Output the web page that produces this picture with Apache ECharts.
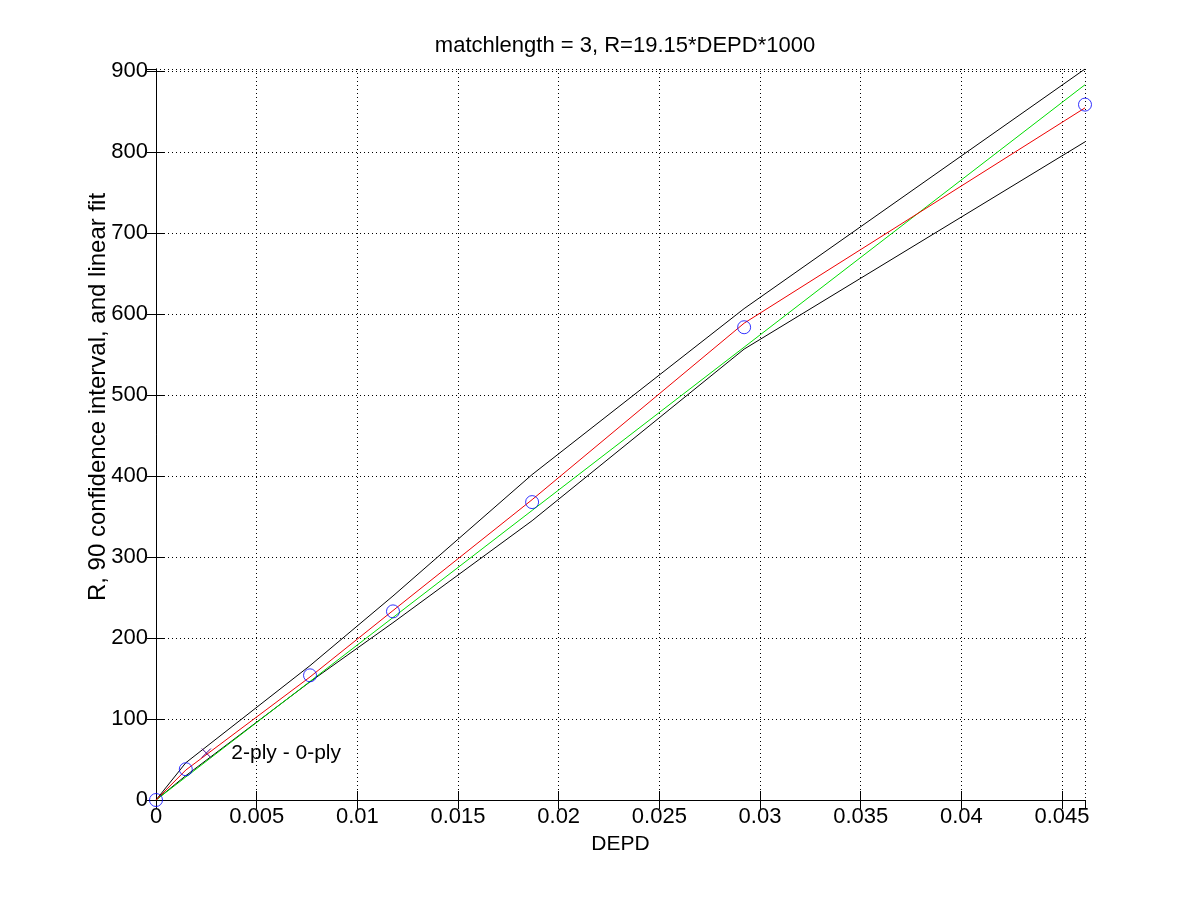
<!DOCTYPE html>
<html>
<head>
<meta charset="utf-8">
<script src="https://cdn.jsdelivr.net/npm/echarts@6/dist/echarts.min.js"></script>
<style>html,body{margin:0;padding:0;background:#fff}#c{width:1200px;height:900px}</style>
</head>
<body>
<div id="c"></div>
<script>
var depd = [0, 0.00148, 0.00765, 0.01177, 0.01868, 0.02921, 0.04614];
var rValues = [0, 38, 154, 233, 368, 584, 859];
var redFit = [0, 37, 152, 234, 371, 589, 855];
var upperCI = [0, 46, 166, 252, 402, 607, 903];
var lowerCI = [0, 30, 146, 219, 345, 557, 813];
var linearSlope = 19150;
var labelPoint = [0.0025, 58];
var labelText = '2-ply - 0-ply';
var titleText = 'matchlength = 3, R=19.15*DEPD*1000';
var xName = 'DEPD';
var yName = 'R, 90 confidence interval, and linear fit';

function pairs(xs, ys){ return xs.map(function(x,i){return [x, ys[i]];}); }
var greenData = depd.map(function(x){ return [x, linearSlope * x]; });

var font = 'Liberation Sans, Arial, Helvetica, sans-serif';
var chart = echarts.init(document.getElementById('c'), null, {renderer:'canvas'});
var xmax = 0.04614, ymax = 903;
function fmt(v){ return String(Number(v.toPrecision(6))); }
var axisCommonX = {
  type:'value', min:0, max:xmax, interval:0.005,
  axisLine:{show:true, lineStyle:{color:'#000', width:1}},
  axisTick:{show:true, inside:true, length:9, lineStyle:{color:'#000'}},
  splitLine:{show:false}
};
var axisCommonY = {
  type:'value', min:0, max:ymax, interval:100,
  axisLine:{show:true, lineStyle:{color:'#000', width:1}},
  axisTick:{show:true, inside:true, length:9, lineStyle:{color:'#000'}},
  splitLine:{show:false}
};
chart.setOption({
  animation:false,
  backgroundColor:'#fff',
  title:{text:titleText, left:620, top:30, textAlign:'center',
    textStyle:{fontFamily:font, fontSize:22, fontWeight:'normal', color:'#000'}},
  grid:{left:156, right:115, top:69, bottom:100, containLabel:false},
  graphic:[{type:'text', x:98, y:397, rotation:Math.PI/2,
    style:{text:yName, fill:'#000', font:'24px ' + font, align:'center', verticalAlign:'middle'}}],
  xAxis:[
    Object.assign({}, axisCommonX, {position:'bottom', name:xName, nameLocation:'middle', nameGap:34,
      nameTextStyle:{fontFamily:font, fontSize:21, color:'#000'},
      axisLabel:{show:true, color:'#000', fontFamily:font, fontSize:22, margin:6, showMaxLabel:false, formatter:fmt},
      splitLine:{show:true, lineStyle:{color:'#000', type:[1,3], width:1}}}),
    Object.assign({}, axisCommonX, {position:'top', axisLabel:{show:false}})
  ],
  yAxis:[
    Object.assign({}, axisCommonY, {position:'left',
      axisLabel:{show:true, color:'#000', fontFamily:font, fontSize:22, margin:8, showMaxLabel:false},
      splitLine:{show:true, lineStyle:{color:'#000', type:[1,3], width:1}}}),
    Object.assign({}, axisCommonY, {position:'right', axisLabel:{show:false}})
  ],
  series:[
    {type:'line', data:pairs(depd, upperCI), symbol:'none', lineStyle:{color:'#000', width:1}, z:2},
    {type:'line', data:pairs(depd, lowerCI), symbol:'none', lineStyle:{color:'#000', width:1}, z:2},
    {type:'line', data:greenData, symbol:'none', lineStyle:{color:'#00dd00', width:1}, z:3},
    {type:'line', data:pairs(depd, redFit), symbol:'none', lineStyle:{color:'#ee0000', width:1}, z:4},
    {type:'scatter', data:pairs(depd, rValues), symbol:'circle', symbolSize:13,
      itemStyle:{color:'rgba(0,0,0,0)', borderColor:'#0000ff', borderWidth:1}, z:5},
    {type:'scatter', data:[labelPoint], symbol:'path://M0,0L10,10M10,0L0,10', symbolSize:9,
      itemStyle:{color:'none', borderColor:'#4b0082', borderWidth:1, opacity:1}, z:6,
      label:{show:true, position:'right', distance:18, formatter:labelText, color:'#000', opacity:1, fontFamily:font, fontSize:21}}
  ]
});
</script>
</body>
</html>
